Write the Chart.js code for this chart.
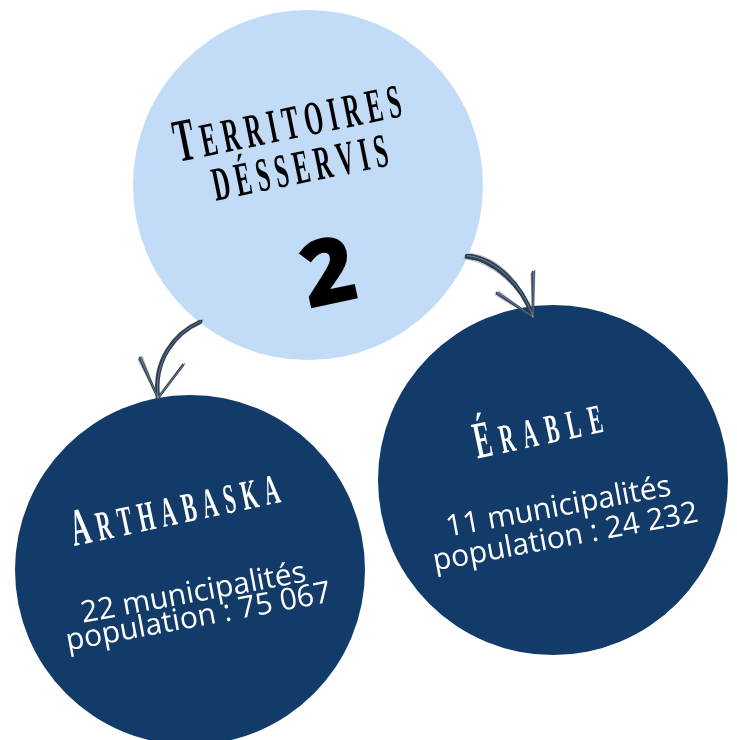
<!DOCTYPE html>
<html><head><meta charset="utf-8">
<script src="https://cdn.jsdelivr.net/npm/chart.js@4"></script>
<style>html,body{margin:0;padding:0;background:#fff;}canvas{display:block}</style>
</head><body>
<canvas id="c" width="737" height="740"></canvas>
<script>
// ---- data ----
const categories = ['Territoires désservis', 'Arthabaska', 'Érable'];
const territoryCount = 2;
const municipalities = [null, 22, 11];
const population = [null, 75067, 24232];

// ---- layout (bubble centres / radii in scale units = px) ----
const bubbleX = [308, 190, 553];
const bubbleY = [185, 570, 480];
const bubbleR = [175, 175, 175];
const bubbleColors = ['#c2dbf7', '#123b69', '#123b69'];

function fmt(n){ return String(n).replace(/\B(?=(\d{3})+(?!\d))/g, ' '); }

function capsText(ctx, text, x, y, angle, capPx, smallPx, firstBig, targetW, sx, color){
  ctx.save();
  ctx.translate(x, y);
  ctx.rotate(angle * Math.PI / 180);
  ctx.fillStyle = color;
  ctx.textBaseline = 'alphabetic';
  ctx.textAlign = 'left';
  const chars = [...text.toUpperCase()];
  const sizes = chars.map((c, i) => (i === 0 && firstBig) ? capPx : smallPx);
  const font = s => "bold " + s + "px 'Liberation Serif'";
  const widths = chars.map((c, i) => { ctx.font = font(sizes[i]); return ctx.measureText(c).width * sx; });
  const sum = widths.reduce((a, b) => a + b, 0);
  const gap = (targetW - sum) / (chars.length - 1);
  let cx = -targetW / 2;
  chars.forEach((c, i) => {
    ctx.save(); ctx.translate(cx, 0); ctx.scale(sx, 1);
    ctx.font = font(sizes[i]); ctx.fillText(c, 0, 0); ctx.restore();
    cx += widths[i] + gap;
  });
  ctx.restore();
}

function bodyText(ctx, text, x, y, angle, size, color){
  ctx.save();
  ctx.translate(x, y);
  ctx.rotate(angle * Math.PI / 180);
  ctx.fillStyle = color;
  ctx.font = size + "px 'Open Sans'";
  ctx.textAlign = 'center';
  ctx.textBaseline = 'alphabetic';
  ctx.fillText(text, 0, 0);
  ctx.restore();
}

function sketchArrow(ctx, o, p, barbs){
  const P = p.map(q => [o.x + q[0], o.y + q[1]]);
  const B = barbs.map(q => [o.x + q[0], o.y + q[1]]);
  const strokes = [
    {dx: 3.4, dy: -2.6, w: 1.0, c: 'rgba(150,162,175,0.7)'},
    {dx: -3.2, dy: 2.8, w: 1.0, c: 'rgba(150,162,175,0.7)'},
    {dx: 0, dy: 0, w: 4.5, c: 'rgba(42,60,82,0.95)'},
    {dx: 2.0, dy: -1.5, w: 1.6, c: 'rgba(42,60,82,0.9)'},
    {dx: -1.8, dy: 1.6, w: 1.6, c: 'rgba(42,60,82,0.9)'},
    {dx: 0.6, dy: -0.4, w: 0.8, c: 'rgba(200,210,220,0.5)'}
  ];
  ctx.save();
  ctx.lineCap = 'round';
  strokes.forEach(s => {
    ctx.strokeStyle = s.c; ctx.lineWidth = s.w;
    ctx.beginPath();
    ctx.moveTo(P[0][0] + s.dx, P[0][1] + s.dy);
    ctx.bezierCurveTo(P[1][0] + s.dx, P[1][1] + s.dy, P[2][0] + s.dx * 0.6, P[2][1] + s.dy * 0.6, P[3][0], P[3][1]);
    ctx.stroke();
    ctx.lineWidth = Math.max(0.8, s.w * 0.6);
    B.forEach(b => {
      ctx.beginPath();
      ctx.moveTo(P[3][0], P[3][1]);
      ctx.lineTo(b[0] + s.dx * 0.7, b[1] + s.dy * 0.7);
      ctx.stroke();
    });
  });
  ctx.restore();
}

const overlay = {
  id: 'overlay',
  afterDatasetsDraw(chart){
    const ctx = chart.ctx;
    const pts = chart.getDatasetMeta(0).data;
    const c0 = pts[0];
    // arrows (relative to the centre circle)
    sketchArrow(ctx, c0, [[-108,137],[-133,148],[-155,175],[-150,213]], [[-168,173],[-125,180]]);
    sketchArrow(ctx, c0, [[159,71],[187,74],[214,100],[225,132]], [[189,108],[225,87]]);
    // centre circle
    capsText(ctx, 'Territoires', c0.x - 17, c0.y - 46, -11.5, 61, 48, true, 230, 0.5, '#000');
    capsText(ctx, 'désservis', c0.x - 5, c0.y - 2, -11.5, 48, 48, false, 178, 0.5, '#000');
    ctx.save();
    ctx.translate(c0.x + 20, c0.y + 86);
    ctx.rotate(-12 * Math.PI / 180);
    ctx.fillStyle = '#000';
    ctx.font = "800 92px 'Open Sans'";
    ctx.textAlign = 'center'; ctx.textBaseline = 'alphabetic';
    ctx.fillText(String(territoryCount), 0, 0.714 * 92 / 2);
    ctx.restore();
    // territory circles
    const titleOff = [null, [-12, -46], [-12, -35]];
    const l1Off = [null, [5, 32], [7, 36]];
    const l2Off = [null, [10, 56], [14, 66]];
    for (let i = 1; i < categories.length; i++){
      const c = pts[i];
      const isA = i === 1;
      capsText(ctx, categories[i], c.x + titleOff[i][0], c.y + titleOff[i][1], -12, isA ? 53 : 52, isA ? 42 : 41, true, isA ? 212 : 130, 0.5, '#fff');
      bodyText(ctx, municipalities[i] + ' municipalités', c.x + l1Off[i][0], c.y + l1Off[i][1], -10.5, 30, '#fff');
      bodyText(ctx, 'population : ' + fmt(population[i]), c.x + l2Off[i][0], c.y + l2Off[i][1], -10.5, 30, '#fff');
    }
  }
};

new Chart(document.getElementById('c'), {
  type: 'bubble',
  data: {
    labels: categories,
    datasets: [{
      data: categories.map((c, i) => ({x: bubbleX[i], y: bubbleY[i], r: bubbleR[i]})),
      backgroundColor: bubbleColors,
      borderWidth: 0,
      hoverBorderWidth: 0,
      hoverRadius: 0,
      clip: false
    }]
  },
  options: {
    responsive: false,
    devicePixelRatio: 1,
    animation: false,
    events: [],
    layout: {padding: 0, autoPadding: false},
    plugins: {legend: {display: false}, tooltip: {enabled: false}},
    scales: {
      x: {type: 'linear', min: 0, max: 737, display: false},
      y: {type: 'linear', min: 0, max: 740, reverse: true, display: false}
    }
  },
  plugins: [overlay]
});
</script>
</body></html>
